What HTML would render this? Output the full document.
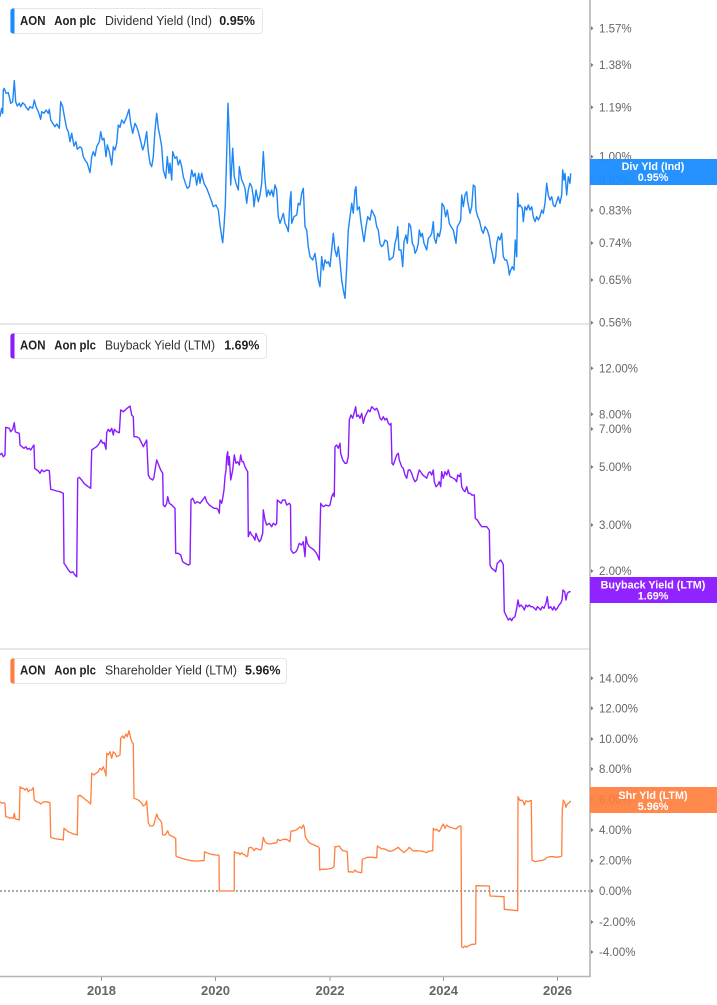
<!DOCTYPE html>
<html>
<head>
<meta charset="utf-8">
<style>
html,body{margin:0;padding:0;background:#fff;}
svg{display:block;}
text{font-family:"Liberation Sans",Arial,sans-serif;}
.yl{font-size:11.5px;fill:#666;}
.xl{font-size:13px;fill:#666;font-weight:bold;}
.lb{font-size:12.5px;fill:#222;font-weight:bold;}
.lr{font-size:12.5px;fill:#333;}
.bd{font-size:10.8px;fill:#fff;font-weight:bold;}
</style>
</head>
<body>
<svg width="717" height="1005" viewBox="0 0 717 1005" xmlns="http://www.w3.org/2000/svg">
<rect x="0" y="0" width="717" height="1005" fill="#fff"/>

<!-- separators -->
<line x1="0" y1="324" x2="590" y2="324" stroke="#cfcfcf" stroke-width="1"/>
<line x1="0" y1="649" x2="590" y2="649" stroke="#cfcfcf" stroke-width="1"/>
<!-- zero dotted line -->
<line x1="0" y1="891" x2="590" y2="891" stroke="#555" stroke-width="1" stroke-dasharray="2,2"/>

<!-- axes -->
<line x1="590" y1="0" x2="590" y2="977" stroke="#b5b5b5" stroke-width="1.6"/>
<line x1="0" y1="976.5" x2="590.8" y2="976.5" stroke="#b5b5b5" stroke-width="1.6"/>

<!-- x ticks -->
<g stroke="#999" stroke-width="1">
<line x1="101.5" y1="977" x2="101.5" y2="981"/>
<line x1="215.5" y1="977" x2="215.5" y2="981"/>
<line x1="330" y1="977" x2="330" y2="981"/>
<line x1="443.5" y1="977" x2="443.5" y2="981"/>
<line x1="557.5" y1="977" x2="557.5" y2="981"/>
</g>
<g class="xl" text-anchor="middle">
<text x="101.5" y="995">2018</text>
<text x="215.5" y="995">2020</text>
<text x="330" y="995">2022</text>
<text x="443.5" y="995">2024</text>
<text x="557.5" y="995">2026</text>
</g>

<!-- y ticks -->
<g fill="#777">
<path d="M591 26.3 l2.5 2 l-2.5 2z"/>
<path d="M591 63 l2.5 2 l-2.5 2z"/>
<path d="M591 105.3 l2.5 2 l-2.5 2z"/>
<path d="M591 154.7 l2.5 2 l-2.5 2z"/>
<path d="M591 179 l2.5 2 l-2.5 2z"/>
<path d="M591 208.3 l2.5 2 l-2.5 2z"/>
<path d="M591 241 l2.5 2 l-2.5 2z"/>
<path d="M591 278 l2.5 2 l-2.5 2z"/>
<path d="M591 320.7 l2.5 2 l-2.5 2z"/>
<path d="M591 366.3 l2.5 2 l-2.5 2z"/>
<path d="M591 412.3 l2.5 2 l-2.5 2z"/>
<path d="M591 427 l2.5 2 l-2.5 2z"/>
<path d="M591 465 l2.5 2 l-2.5 2z"/>
<path d="M591 523 l2.5 2 l-2.5 2z"/>
<path d="M591 569 l2.5 2 l-2.5 2z"/>
<path d="M591 676.3 l2.5 2 l-2.5 2z"/>
<path d="M591 706.3 l2.5 2 l-2.5 2z"/>
<path d="M591 737 l2.5 2 l-2.5 2z"/>
<path d="M591 767 l2.5 2 l-2.5 2z"/>
<path d="M591 797.7 l2.5 2 l-2.5 2z"/>
<path d="M591 828 l2.5 2 l-2.5 2z"/>
<path d="M591 858.7 l2.5 2 l-2.5 2z"/>
<path d="M591 889 l2.5 2 l-2.5 2z"/>
<path d="M591 920 l2.5 2 l-2.5 2z"/>
<path d="M591 950 l2.5 2 l-2.5 2z"/>
</g>
<g class="yl">
<text x="599" y="32.3">1.57%</text>
<text x="599" y="69">1.38%</text>
<text x="599" y="111.3">1.19%</text>
<text x="599" y="160.7">1.00%</text>
<text x="599" y="185">0.92%</text>
<text x="599" y="214.3">0.83%</text>
<text x="599" y="247">0.74%</text>
<text x="599" y="284">0.65%</text>
<text x="599" y="326.7">0.56%</text>
<text x="599" y="372.3">12.00%</text>
<text x="599" y="418.3">8.00%</text>
<text x="599" y="433">7.00%</text>
<text x="599" y="471">5.00%</text>
<text x="599" y="529">3.00%</text>
<text x="599" y="575">2.00%</text>
<text x="599" y="682.3">14.00%</text>
<text x="599" y="712.3">12.00%</text>
<text x="599" y="743">10.00%</text>
<text x="599" y="773">8.00%</text>
<text x="599" y="803.7">6.00%</text>
<text x="599" y="834">4.00%</text>
<text x="599" y="864.7">2.00%</text>
<text x="599" y="895">0.00%</text>
<text x="599" y="926">-2.00%</text>
<text x="599" y="956">-4.00%</text>
</g>

<!-- Blue: dividend yield -->
<polyline fill="none" stroke="#1f87f5" stroke-width="1.4" stroke-linejoin="round" points="
0,116.7 1.7,108.3 2.7,113.3 3.3,90 4.3,88.3 6,93.3 8.3,92.7 9.3,96.7 10.7,103.3 12.7,101.7 14.3,80.7 15.7,101.7 17.3,106 19.3,103.3 20.7,106.7 22.7,102.7 25,105 26,107.3 28.3,110 30,106.7 32.7,108.3 34.3,100 36,106.7 38.3,111.7 40.7,119.3 41.7,111.7 44,113.3 46,110 48.3,113.3 49.3,109.3 50.7,120 52.7,123.3 55,126.7 56.7,124 59.3,128.3 60.7,101.7 62.7,106.7 65,120 66.7,128.3 68.3,131.7 70,141.7 71.7,133.3 74,146 76,141.7 77.3,149.3 80,146.7 81.7,148.3 83.3,156.7 85,160 87.3,163.3 90,172.7 91.7,156.7 93.3,151.7 95,156 96.7,146.7 99.3,141.7 100.7,131.7 102.3,140 104,138.3 106,156.7 107.3,145 109.3,151.7 111.7,165 113.3,146.7 115,150 116.7,143.3 118.3,125 120,127.3 121.7,120 124,123.3 126.7,116.7 129,109.3 130.7,123.3 132.7,133.3 135,123.3 136.7,126.7 138.3,131.7 140,138.3 142.7,150 144.3,145 146.7,131.7 148.3,151.7 150,163.3 151.7,166.7 153.3,156.7 155,130 156.7,113.3 158.3,128.3 160,136.7 161.7,146.7 163.3,170 165.7,178.3 167.3,156.7 169,173.3 170,163.3 171.7,180 172.7,151.7 175,158.3 176.7,156.7 178.3,165 180,160 181.7,166.7 183.3,176.7 186,185 187.3,188.3 189.3,186.7 191.7,170 193.3,176.7 195,173.3 196.7,185 198.7,173.3 200,183.3 201.7,173.3 204,183.3 206.7,188.3 209.3,195 211.7,201.7 213.3,206.7 216,205 218.3,210 220,225 221.7,236.7 222.7,242.7 224,226.7 225.3,205 226.7,153.3 228,103.3 229.3,136.7 230.7,185 232.7,148.3 234.3,176.7 236,183.3 238.3,190 239.3,166.7 241.7,180 243.3,183.3 245,188.3 246.7,203.3 248.3,190 250,183.3 251.7,186.7 253.3,196.7 254,206.7 256,190 258.3,201.7 260,195 261.7,183.3 263.3,151.7 265,180 266.7,196.7 268.3,190 270,195 271.7,190 273.3,196.7 275,185 276.7,190 278.3,216.7 280,223.3 281.7,218.3 283.3,213.3 285,223.3 286.7,226.7 288.3,231.7 290,200 291,191.7 291.7,223.3 294,216.7 296.7,215 298.3,203.3 300,205 301.7,193.3 303.3,188.3 305,226.7 306.7,230 308.3,246.7 310,256.7 312.7,260 315,253.3 316.7,266.7 318.3,280 320,286.7 321.7,256.7 323.3,270 325,260 326.7,263.3 328.3,261.7 330,266.7 331.7,250 333.3,233.3 335,250 336.7,256.7 338.3,246.7 340,261.7 341.7,280 343.3,290 345,298.3 346.7,266.7 348.3,230 350,216.7 351.7,203.3 353.3,213.3 355,190 356,186.7 357.3,210 359.3,206.7 360.7,220 362.7,233.3 364,241.7 366,226.7 367.7,216.7 370,220 371.7,210 373.3,213.3 375,216.7 376.7,226.7 378.3,230 380,243.3 381.7,246.7 383.3,245 385,240 387.3,241.7 389.3,260 391.7,258.3 393.3,256.7 395,243.3 396.7,236.7 397.7,226.7 399,250 401,250 402.7,266.7 404,241.7 406,235 407.3,243.3 409,223.3 410.7,226.7 412.3,243.3 414,246.7 415,253.3 416.7,250 418.3,243.3 419.3,230 421,236.7 422.3,233.3 424,243.3 426.7,250 428.3,238.3 430,236.7 431.7,233.3 433.3,221.7 434.3,238.3 436,243.3 437.7,233.3 439.3,236.7 441,228.3 442,203.3 444,206.7 445.7,216.7 447.3,210 449.3,223.3 451,226.7 453.3,230 456,243.3 457.3,226.7 459.3,223.3 460.7,220 461.7,195 463.3,206.7 465,195 466.7,191.7 467.7,201.7 469,208.3 470,213.3 471.7,206.7 473.3,185 475,186.7 476,210 477.7,216.7 479.3,220 481.7,230 483.3,233.3 485,226.7 487.3,230 489.3,236.7 490.7,246.7 492.3,253.3 494,263.3 495.7,256.7 496.7,243.3 498.3,236.7 500,240 501.7,233.3 503.3,256.7 505,260 506.7,260 508.3,266.7 509.3,275 510.7,270 512.3,266.7 514,270 515.3,240 516.7,256.7 517.7,193.3 518.7,206.7 520,205 522.3,208.3 523.3,221.7 525,206.7 526.7,210 528.3,205 530,210 531.7,206.7 533.3,216.7 535,221.7 536.7,216.7 538.3,220 540,216.7 541.7,210 543.3,213.3 545,203.3 546.7,183.3 548.3,195 550,200 551.7,196.7 553.3,205 555,206.7 556.7,201.7 558.3,196.7 560,203.3 561.7,195 562.7,170 564,180 565,173.3 566.7,195 568.3,176.7 570,183.3 570.7,173.3"/>

<!-- Purple: buyback yield -->
<polyline fill="none" stroke="#8b1cff" stroke-width="1.4" stroke-linejoin="round" points="
0,455 1.7,453.3 3.3,456.7 5,455 5.7,427.3 9.3,428.3 10.7,431.7 12.7,429.3 14.3,422.7 15.3,431.7 17.3,432.7 19.3,433.3 20,445 22,446.7 24,448.3 26,446.7 27.3,449.3 29.3,448.3 30.7,450 32.7,446.7 34,445 34.7,468.3 36.7,470 38.3,471 40,473.3 41.7,470 44,471.7 46.7,470 49.3,470.7 50.7,489.3 53.3,490 56.7,491 60,491.7 63.3,493.3 64,563.3 66,566 68.3,570 70.7,572.7 72.7,571.7 75,575 76.7,576.7 77.7,478.3 79.3,477.3 81.7,480 84,483.3 86,485 88.3,486.7 90.7,488.3 91.7,450 94,448.3 96.7,446.7 99.3,443.3 101,440 102.7,443.3 104.3,442.7 106,449.3 106.7,432.7 108.3,429.3 110,431.7 111.7,428.3 113.3,435 114.3,429.3 116.7,431.7 119.3,432.7 120.7,410 123.3,411.7 126,409.3 128.3,407.3 130,406 131.7,415 133.3,416.7 134,436.7 136.7,436.7 139.3,438.3 141.7,443.3 143.3,446.7 145,443.3 146.7,440 148.3,475 150,478.3 152.7,480 154,477.3 155,470 156.7,460 158.7,465 160.7,470 162.7,473.3 163.3,505 165,506.7 166.7,503.3 167.7,496.7 169.3,503.3 171.7,505 173.3,506.7 175,508.3 175.7,553.3 178.3,553.3 180.7,555 182.7,561.7 185,563.3 188.3,565 190,564 191,500 192.7,498.3 195,503.3 197.3,501.7 200,503.3 202.7,500 205,496.7 206.7,501.7 209.3,505 211.7,506.7 214,508.3 216.7,508.3 218.3,510 219.3,513.3 220,500 221.7,503.3 222.7,498.3 224,490 225,476.7 226,470 226.7,456.7 227.7,451.7 228.3,465 229.3,456.7 230.7,480 232.7,470 234.3,455 236,463.3 237.7,461.7 239.3,465 240.7,455 242,461.7 243.3,461.7 245,466.7 246.7,470 247.7,471.7 248.3,536.7 250,531.7 251.7,535 253.3,536.7 255,540 256,533.3 257.7,538.3 259.3,541.7 260.7,540 262.7,533.3 263.3,510 265,520 266.7,525 269.3,523.3 271.7,526.7 273.3,523.3 275.3,525 276.7,523.3 277.3,500 279.3,501.7 281,503.3 282.7,500 285,500 286.7,505 289.3,503.3 290.5,505 291,550 293.3,553.3 296,551.7 297.3,549.3 299.3,543.3 301.7,545 303.3,541.7 305,556.7 306,536.7 307.3,543.3 309.3,546.7 311.7,548.3 314,550 316,552.7 317.3,555 319.3,560 320.7,503.3 321.7,505 323.3,506.7 326,505 328.3,506 330,505 331.7,496.7 333.3,493.3 334.3,496.7 335,446.7 336.7,445 338.3,448.3 340,443.3 340.7,453.3 342.7,460 345,463.3 346.7,463.3 348.3,456.7 349.3,420 351,415 352.7,418.3 354,413.3 355.7,406.7 356.7,416.7 358.3,415 360,418.3 361.7,413.3 363.3,423.3 365,416.7 366.7,413.3 368.3,410 370,411.7 371.7,406.7 373.3,408.3 375,410 376.7,408.3 378.3,411.7 380,418.3 381.7,420 383.3,416.7 385,420 386.7,418.3 388.3,423.3 390,425 391,423.3 392,463.3 393.3,465 395,460 396.7,455 398.3,453.3 399.3,460 401.7,466.7 403.3,468.3 405,475 406.7,478.3 408.3,470 410,470 411.7,473.3 413.3,478.3 415,481.7 416.7,480 418.3,473.3 419.3,470 420.7,471.7 422.7,475 425,476.7 426.7,478.3 428.3,473.3 430,471.7 431.7,475 433.3,470 434.3,481.7 436,486.7 437.7,485 439.3,481.7 440.7,486.7 441.7,471.7 443.3,478.3 445,471.7 446.7,475 448.3,470 450,476.7 451.7,477.3 453.3,478.3 455,479.3 456.7,481.7 457.7,475 459.3,476.7 460.7,473.3 461.7,486.7 463.3,490 465,491.7 466.7,486.7 468.3,493.3 470,493.3 471.7,495 474.3,495 475.3,518.3 477.3,520 479.3,523.3 481.7,526.7 484,526.7 486.7,526.7 489.3,530 490,565 491.7,568.3 494,570 495.7,571.7 497.3,563.3 499,561.7 500.7,560 502.7,563.3 503.3,565 504.3,611.7 506.7,616.7 508.3,620 510,618.3 511.7,620.7 512.7,618.3 515,616.7 516.7,608.3 518,600 519.3,606.7 521,605 522.7,606.7 524.3,610 526,605 527.7,606.7 529.3,605 530.7,606.7 532.7,606.7 534.3,608.3 536,610 537.3,606.7 539.3,608.3 540.7,610 542.3,606.7 544,608.3 546,603.3 547.3,596.7 548.7,608.3 550.7,606.7 552.7,610 554,606.7 555.7,610 557.3,608.3 559,605 560.7,603.3 562,600 563,590 564.7,591.7 566,600 567.3,593.3 569.3,591.7 570.7,591.7"/>

<!-- Orange: shareholder yield -->
<polyline fill="none" stroke="#ff7f3f" stroke-width="1.3" stroke-linejoin="round" points="
0,801.7 1.7,803.3 4,802.7 5,804 5.7,816.7 8.3,817.3 10,818.3 11.7,817.7 13.3,818.3 14.3,813.3 15.3,819 17.3,819.3 19.3,820 20,786.7 21.7,788.3 23.3,788.3 25,790 26.7,788.3 28.3,791.7 30,790 31.7,790 33.3,787.7 34.3,800 36.7,801.7 39.3,802.7 40.7,804 43.3,802 46.7,801.7 50,802.7 50.7,837.3 53.3,838.3 56.7,839 60,839.3 63.3,840 64,828.3 66,830 68.3,831.7 70.7,832.7 73.3,834 75,834.3 77.3,835 78,796 80,795.3 82.7,797.3 85,799.3 87.3,801 89.3,802.7 90.7,804 91.7,773.3 94,775 96,773.3 98.3,771.7 100,768.3 101.7,770 103.3,766.7 105,771.7 106,776 106.7,753.3 108.3,755 110,751.7 111.7,758.3 113.3,751.7 115,753.3 116.7,756.7 118.3,756 120,755 120.7,738.3 122.7,736 124,738.3 126,734 127.3,736.7 129,730.7 130.7,738.3 132.3,742.7 133.3,744 134,798.3 136.7,799.3 139.3,800.7 141.7,803.3 143.3,806 145,805 146.7,801 148.3,822.7 150,826 152.7,826 154,824 155,820 156.7,814 158.3,818.3 160,820 161.7,822.7 162.7,835 165,835 166.7,832.7 167.7,830.7 169.3,835 171.7,836 174,837.3 175.7,838.3 176,856 178.3,857.3 181.7,858.3 185,859.3 188.3,860 191.7,860.7 195,861 198.3,861 201.7,860.7 204,860.7 204.7,851.7 206.7,852.7 210,854 213.3,854.7 216.7,855 219,855.3 219.3,891 234.3,891 234.3,851.7 236.7,853.3 238.7,852.7 240,854.7 241.7,852.7 243.3,854.3 245,855 246.7,856.7 247.7,856 248.7,848 250.7,847.3 252.7,848.3 254,850.7 256,848.3 258.3,849.3 260.7,850 261.7,848.3 263.3,837.3 265,841.7 266.7,843.3 270,844 273.3,843.3 276.7,842.7 277.7,839.3 280,840.7 283.3,839.3 286.7,839.3 290,841.7 291,831 293.3,831 296,830 298.3,828.3 300,826.7 301.7,828.3 303.3,825 304.3,827.3 305.3,836.7 307.3,840 309.3,842.7 311.7,844 314,845 316,846 318.3,846.7 319.3,848.3 319.7,870 321.7,869.3 325,869.3 328.3,869 331.7,868.3 334,866.7 335,846.7 336.7,846.7 339.3,846 340.7,848.3 342.7,850.7 345,851 347.3,851.7 348.3,872 350.7,871.7 353.3,872.3 355,870 356.7,871.7 359.3,872.3 361.7,872.7 362.3,859.3 365,858.3 367.3,857.3 370,857.3 372.7,857.3 375,857.7 376.7,857.7 377.3,846 379.3,847.3 381.7,849 384,848.7 386.7,850 389.3,851.3 391.7,851 394,850 396.7,848.3 398.3,847.3 400,849.3 402.3,851 404,852.7 406,850.7 407.7,849.3 409.3,847.3 411,849 413.3,851 416,850.7 419.3,851 421.7,851 424,851.7 426.7,852.7 428.3,851.3 430.7,851 432.7,850.7 433.3,828.3 435,830 436.7,829.3 439,831.7 440.7,829 441.7,826.7 443.3,824 445,828.3 446.7,825 448.7,826.7 450.7,827.3 453.3,828.3 456,829 458.3,826.7 460,826 461,826 461.7,946.7 463.3,947.7 465,946 466.7,947.3 468.3,945.7 470,945.3 471.7,944.3 473.3,944.3 475.7,944 476,885.7 489.3,886 490,896 504,896.7 504.3,909.3 517.7,910.7 518,796.7 520,800.7 521.7,800 523.3,801.7 524.3,805 526,800.7 528.3,801.7 530,800.7 531.3,800.7 532,860 535,861.7 538.3,861 540.7,860.7 543.3,860 545,859.3 546.7,857.7 549.3,856.7 553.3,856.7 556.7,857.3 560,856.7 561.7,856 562.3,810 563.3,800 565,803.3 566,807.3 567.3,804 569.3,802.7 570.7,800.7"/>

<!-- Badges -->
<rect x="590" y="159" width="127" height="26" fill="#1a8cff" opacity="0.95"/>
<text class="bd" x="653" y="170" text-anchor="middle">Div Yld (Ind)</text>
<text class="bd" x="653" y="181" text-anchor="middle">0.95%</text>

<rect x="590" y="577" width="127" height="26" fill="#8b1aff" opacity="0.96"/>
<text class="bd" x="653" y="588.5" text-anchor="middle">Buyback Yield (LTM)</text>
<text class="bd" x="653" y="599.5" text-anchor="middle">1.69%</text>

<rect x="590" y="787" width="127" height="26" fill="#ff7c3a" opacity="0.9"/>
<text class="bd" x="653" y="799" text-anchor="middle">Shr Yld (LTM)</text>
<text class="bd" x="653" y="810" text-anchor="middle">5.96%</text>

<!-- Legend 1 -->
<rect x="10.5" y="8.5" width="252" height="25" rx="3" fill="#fff" stroke="#e6e6e6"/>
<path d="M13 8.5 h1.5 v25 h-1.5 a2.5 2.5 0 0 1 -2.5 -2.5 v-20 a2.5 2.5 0 0 1 2.5 -2.5z" fill="#1a8cff"/>
<text class="lb" x="20" y="25" textLength="25.5" lengthAdjust="spacingAndGlyphs">AON</text>
<text class="lb" x="54.3" y="25" textLength="41.7" lengthAdjust="spacingAndGlyphs">Aon plc</text>
<text class="lr" x="105" y="25" textLength="107" lengthAdjust="spacingAndGlyphs">Dividend Yield (Ind)</text>
<text class="lb" x="219.3" y="25" textLength="35.7" lengthAdjust="spacingAndGlyphs">0.95%</text>

<!-- Legend 2 -->
<rect x="10.5" y="333.5" width="256" height="25" rx="3" fill="#fff" stroke="#e6e6e6"/>
<path d="M13 333.5 h1.5 v25 h-1.5 a2.5 2.5 0 0 1 -2.5 -2.5 v-20 a2.5 2.5 0 0 1 2.5 -2.5z" fill="#8b1aff"/>
<text class="lb" x="20" y="349.5" textLength="25.5" lengthAdjust="spacingAndGlyphs">AON</text>
<text class="lb" x="54.3" y="349.5" textLength="41.7" lengthAdjust="spacingAndGlyphs">Aon plc</text>
<text class="lr" x="105" y="349.5" textLength="110" lengthAdjust="spacingAndGlyphs">Buyback Yield (LTM)</text>
<text class="lb" x="224.3" y="349.5" textLength="35" lengthAdjust="spacingAndGlyphs">1.69%</text>

<!-- Legend 3 -->
<rect x="10.5" y="658.5" width="276" height="25" rx="3" fill="#fff" stroke="#e6e6e6"/>
<path d="M13 658.5 h1.5 v25 h-1.5 a2.5 2.5 0 0 1 -2.5 -2.5 v-20 a2.5 2.5 0 0 1 2.5 -2.5z" fill="#ff7c3a"/>
<text class="lb" x="20" y="674.5" textLength="25.5" lengthAdjust="spacingAndGlyphs">AON</text>
<text class="lb" x="54.3" y="674.5" textLength="41.7" lengthAdjust="spacingAndGlyphs">Aon plc</text>
<text class="lr" x="105" y="674.5" textLength="132" lengthAdjust="spacingAndGlyphs">Shareholder Yield (LTM)</text>
<text class="lb" x="245" y="674.5" textLength="35.5" lengthAdjust="spacingAndGlyphs">5.96%</text>
</svg>
</body>
</html>
